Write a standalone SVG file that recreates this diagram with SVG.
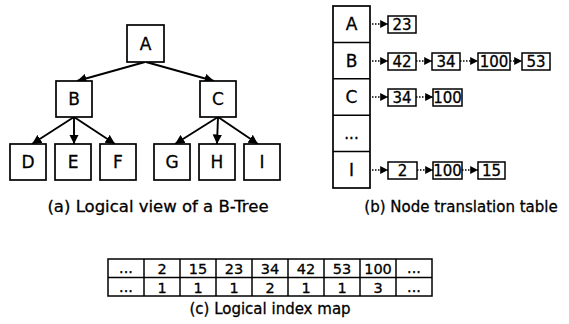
<svg xmlns="http://www.w3.org/2000/svg" width="569" height="324" viewBox="0 0 569 324">
<style>
text{font-family:"DejaVu Sans","Liberation Sans",sans-serif;fill:#000;text-anchor:middle;stroke:#000;stroke-width:0.3}
.node{fill:#fff;stroke:#000;stroke-width:1.7}
.lbl{font-size:17px}
.num{font-size:15px}
.cap{font-size:15px}
.capa{font-size:16.5px}
.cell{fill:#fff;stroke:#000;stroke-width:1.5}
.idx{font-size:14.5px}
.edge{stroke:#000;stroke-width:1.9;fill:none;marker-end:url(#ah)}
.link{stroke:#000;stroke-width:1.3;stroke-dasharray:1.5 1.5;fill:none;marker-end:url(#sh)}
.lbox{fill:#fff;stroke:#000;stroke-width:1.5}
.grid line{stroke:#000;stroke-width:1.5}
</style>
<defs>
<marker id="ah" viewBox="0 0 10 10" refX="10" refY="5" markerWidth="5" markerHeight="5" markerUnits="strokeWidth" orient="auto"><path d="M0,0 L10,5 L0,10 z" fill="#000"/></marker>
<marker id="sh" viewBox="0 0 10 10" refX="10" refY="5" markerWidth="6" markerHeight="6" markerUnits="strokeWidth" orient="auto"><path d="M0,0 L10,5 L0,10 z" fill="#000"/></marker>
</defs>
<g id="connectors">
<line class="edge" x1="145" y1="62" x2="77" y2="81"/>
<line class="edge" x1="146" y1="62" x2="214" y2="81"/>
<line class="edge" x1="74" y1="117" x2="32" y2="144"/>
<line class="edge" x1="74" y1="117" x2="74" y2="144"/>
<line class="edge" x1="74" y1="117" x2="115" y2="144"/>
<line class="edge" x1="218" y1="117" x2="175" y2="144"/>
<line class="edge" x1="218" y1="117" x2="217" y2="144"/>
<line class="edge" x1="218" y1="117" x2="258" y2="144"/>
<line class="link" x1="372" y1="24" x2="388" y2="24"/>
<line class="link" x1="372" y1="61" x2="388" y2="61"/>
<line class="link" x1="416" y1="61" x2="432" y2="61"/>
<line class="link" x1="460" y1="61" x2="478" y2="61"/>
<line class="link" x1="510" y1="61" x2="522" y2="61"/>
<line class="link" x1="372" y1="97" x2="388" y2="97"/>
<line class="link" x1="416" y1="97" x2="433" y2="97"/>
<line class="link" x1="372" y1="170" x2="388" y2="170"/>
<line class="link" x1="417" y1="170" x2="433" y2="170"/>
<line class="link" x1="462" y1="170" x2="478" y2="170"/>
</g>
<g id="node-A"><rect class="node" x="127" y="25" width="37" height="37"/><text class="lbl" x="145.5" y="49.5">A</text></g>
<g id="node-B"><rect class="node" x="56" y="81" width="36" height="36"/><text class="lbl" x="74" y="105">B</text></g>
<g id="node-C"><rect class="node" x="200" y="81" width="36" height="36"/><text class="lbl" x="218" y="105">C</text></g>
<g id="node-D"><rect class="node" x="10" y="144" width="36" height="36"/><text class="lbl" x="28" y="168">D</text></g>
<g id="node-E"><rect class="node" x="55" y="144" width="36" height="36"/><text class="lbl" x="73" y="168">E</text></g>
<g id="node-F"><rect class="node" x="100" y="144" width="36" height="36"/><text class="lbl" x="118" y="168">F</text></g>
<g id="node-G"><rect class="node" x="154" y="144" width="36" height="36"/><text class="lbl" x="172" y="168">G</text></g>
<g id="node-H"><rect class="node" x="199" y="144" width="36" height="36"/><text class="lbl" x="217" y="168">H</text></g>
<g id="node-I"><rect class="node" x="244" y="144" width="36" height="36"/><text class="lbl" x="262" y="168">I</text></g>
<text class="capa" x="158" y="212">(a) Logical view of a B-Tree</text>
<g id="table-b" class="grid">
<rect class="node" x="333" y="6" width="37" height="182"/>
<line x1="333" y1="42.4" x2="370" y2="42.4"/>
<line x1="333" y1="78.8" x2="370" y2="78.8"/>
<line x1="333" y1="115.2" x2="370" y2="115.2"/>
<line x1="333" y1="151.6" x2="370" y2="151.6"/>
<text class="lbl" x="351.5" y="30">A</text>
<text class="lbl" x="351.5" y="67">B</text>
<text class="lbl" x="351.5" y="103">C</text>
<text class="num" x="351.5" y="139">...</text>
<text class="lbl" x="351.5" y="176">I</text>
</g>
<g id="list-A"><rect class="lbox" x="388" y="16" width="28" height="17"/><text class="num" x="402" y="30">23</text></g>
<g id="list-B">
<rect class="lbox" x="388" y="53" width="28" height="17"/><text class="num" x="402" y="67">42</text>
<rect class="lbox" x="432" y="53" width="28" height="17"/><text class="num" x="446" y="67">34</text>
<rect class="lbox" x="478" y="53" width="32" height="17"/><text class="num" x="494" y="67">100</text>
<rect class="lbox" x="522" y="53" width="28" height="17"/><text class="num" x="536" y="67">53</text>
</g>
<g id="list-C">
<rect class="lbox" x="388" y="89" width="28" height="17"/><text class="num" x="402" y="103">34</text>
<rect class="lbox" x="433" y="89" width="29" height="17"/><text class="num" x="447.5" y="103">100</text>
</g>
<g id="list-I">
<rect class="lbox" x="388" y="162" width="29" height="17"/><text class="num" x="402.5" y="176">2</text>
<rect class="lbox" x="433" y="162" width="29" height="17"/><text class="num" x="447.5" y="176">100</text>
<rect class="lbox" x="478" y="162" width="27" height="17"/><text class="num" x="491.5" y="176">15</text>
</g>
<text class="cap" x="461" y="212">(b) Node translation table</text>
<g id="index-map" class="grid">
<rect class="cell" x="108" y="259" width="324" height="37"/>
<line x1="108" y1="277.5" x2="432" y2="277.5"/>
<line x1="144" y1="259" x2="144" y2="296"/><line x1="180" y1="259" x2="180" y2="296"/><line x1="216" y1="259" x2="216" y2="296"/><line x1="252" y1="259" x2="252" y2="296"/><line x1="288" y1="259" x2="288" y2="296"/><line x1="324" y1="259" x2="324" y2="296"/><line x1="360" y1="259" x2="360" y2="296"/><line x1="396" y1="259" x2="396" y2="296"/>
<text class="idx" x="126" y="273">...</text><text class="idx" x="162" y="273.5">2</text><text class="idx" x="198" y="273.5">15</text><text class="idx" x="234" y="273.5">23</text><text class="idx" x="270" y="273.5">34</text><text class="idx" x="306" y="273.5">42</text><text class="idx" x="342" y="273.5">53</text><text class="idx" x="378" y="273.5">100</text><text class="idx" x="414" y="273">...</text>
<text class="idx" x="126" y="292">...</text><text class="idx" x="162" y="292.5">1</text><text class="idx" x="198" y="292.5">1</text><text class="idx" x="234" y="292.5">1</text><text class="idx" x="270" y="292.5">2</text><text class="idx" x="306" y="292.5">1</text><text class="idx" x="342" y="292.5">1</text><text class="idx" x="378" y="292.5">3</text><text class="idx" x="414" y="292">...</text>
</g>
<text class="cap" x="270" y="314">(c) Logical index map</text>
</svg>
